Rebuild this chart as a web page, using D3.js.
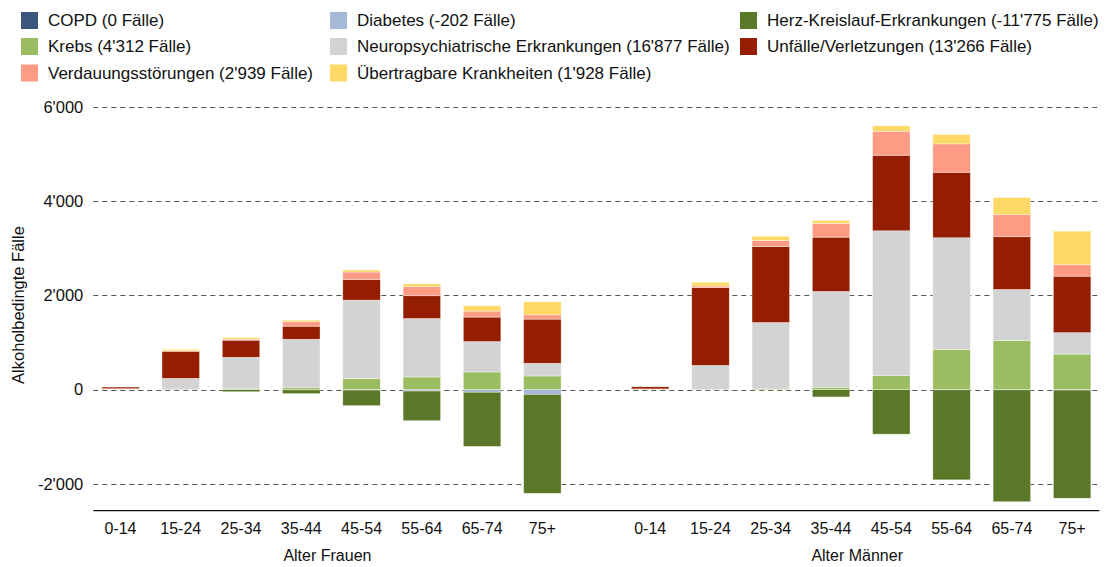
<!DOCTYPE html>
<html lang="de">
<head>
<meta charset="UTF-8">
<title>Alkoholbedingte Fälle</title>
<script src="https://cdnjs.cloudflare.com/ajax/libs/d3/7.8.5/d3.min.js"></script>
<style>
    body { margin: 0; background: #fff; font-family: "Liberation Sans", Arial, sans-serif; }
    svg text { fill: #111; }
    .grid line { stroke: #555; stroke-dasharray: 5,4; }
    .bar rect { stroke: #fff; stroke-width: 0.6; stroke-opacity: 0.6; }
</style>
</head>
<body>
<div id="chart"></div>
<script>
// categories
const ages = ["0-14", "15-24", "25-34", "35-44", "45-54", "55-64", "65-74", "75+"];
const groups = ["Alter Frauen", "Alter Männer"];
const yTicks = [-2000, 0, 2000, 4000, 6000];

// series values, women (F) and men (M), per age class
const copdF = [0, 0, 0, 0, 0, 0, 0, 0];
const copdM = [0, 0, 0, 0, 0, 0, 0, 0];
const diabetesF = [0, 0, 0, -5, -10, -30, -55, -100];
const diabetesM = [0, 0, 0, 0, 0, -5, -5, -10];
const herzF = [0, -5, -45, -80, -330, -630, -1150, -2100];
const herzM = [0, -5, -5, -155, -945, -1910, -2375, -2295];
const krebsF = [0, 10, 20, 50, 234, 270, 375, 290];
const krebsM = [0, 10, 15, 50, 303, 855, 1046, 755];
const neuroF = [20, 230, 667, 1020, 1666, 1240, 646, 270];
const neuroM = [15, 505, 1410, 2035, 3069, 2369, 1081, 454];
const unfaelleF = [35, 575, 363, 277, 440, 483, 519, 937];
const unfaelleM = [45, 1650, 1613, 1152, 1604, 1391, 1118, 1200];
const verdauungF = [0, 10, 20, 93, 157, 192, 127, 91];
const verdauungM = [0, 35, 127, 290, 509, 602, 473, 242];
const uebertragF = [0, 32, 36, 35, 43, 62, 113, 277];
const uebertragM = [0, 79, 91, 64, 115, 198, 360, 713];

const keys = ["copd", "diabetes", "herz", "krebs", "neuro", "unfaelle", "verdauung", "uebertrag"];
const labels = [
    "COPD (0 Fälle)",
    "Diabetes (-202 Fälle)",
    "Herz-Kreislauf-Erkrankungen (-11'775 Fälle)",
    "Krebs (4'312 Fälle)",
    "Neuropsychiatrische Erkrankungen (16'877 Fälle)",
    "Unfälle/Verletzungen (13'266 Fälle)",
    "Verdauungsstörungen (2'939 Fälle)",
    "Übertragbare Krankheiten (1'928 Fälle)"
];
const colors = ["#3b557c", "#a6b8d7", "#5b7829", "#9bbd62", "#d3d3d3", "#961e00", "#fe9b84", "#fed966"];

const seriesF = { copd: copdF, diabetes: diabetesF, herz: herzF, krebs: krebsF, neuro: neuroF, unfaelle: unfaelleF, verdauung: verdauungF, uebertrag: uebertragF };
const seriesM = { copd: copdM, diabetes: diabetesM, herz: herzM, krebs: krebsM, neuro: neuroM, unfaelle: unfaelleM, verdauung: verdauungM, uebertrag: uebertragM };

// one row per group/age for d3.stack
const rows = [];
groups.forEach((g, gi) => {
    const src = gi === 0 ? seriesF : seriesM;
    ages.forEach((a, i) => {
        const r = { group: g, age: a };
        keys.forEach(k => r[k] = src[k][i]);
        rows.push(r);
    });
});

const width = 1113, height = 567;
const plotLeft = 93.3, plotRight = 1099.3;
const axisY = 510.7;

const svg = d3.select("#chart").append("svg")
    .attr("width", width)
    .attr("height", height)
    .style("font-family", "'Liberation Sans', Arial, sans-serif");

const x0 = d3.scaleBand()
    .domain(groups)
    .range([plotLeft, plotRight])
    .paddingInner(0.101)
    .paddingOuter(0);

const x1 = d3.scaleBand()
    .domain(ages)
    .range([0, x0.bandwidth()])
    .paddingInner(0.378)
    .paddingOuter(0.14);

const y = d3.scaleLinear()
    .domain([-2570, 6000])
    .range([axisY, 107]);

const color = d3.scaleOrdinal().domain(keys).range(colors);

const loc = d3.formatLocale({ decimal: ".", thousands: "'", grouping: [3], currency: ["", ""], minus: "-" });
const fmt = loc.format(",d");

// grid lines
svg.append("g")
    .attr("class", "grid")
    .selectAll("line")
    .data(yTicks)
    .join("line")
    .attr("x1", plotLeft)
    .attr("x2", plotRight)
    .attr("y1", d => Math.round(y(d)) + 0.5)
    .attr("y2", d => Math.round(y(d)) + 0.5);

// y axis labels
const yAxis = svg.append("g")
    .attr("transform", `translate(${plotLeft - 10},0)`)
    .call(d3.axisLeft(y).tickValues(yTicks).tickFormat(fmt).tickSize(0).tickPadding(0));
yAxis.select(".domain").remove();
yAxis.selectAll("text").attr("font-size", 16.5).attr("fill", "#111").attr("font-family", "'Liberation Sans', Arial, sans-serif");

svg.append("text")
    .attr("transform", "translate(20,305) rotate(-90)")
    .attr("text-anchor", "middle")
    .attr("dominant-baseline", "middle")
    .attr("font-size", 16.5)
    .text("Alkoholbedingte Fälle");

// stacked bars
const stack = d3.stack().keys(keys).offset(d3.stackOffsetDiverging);
const layers = stack(rows);

svg.append("g")
    .selectAll("g")
    .data(layers)
    .join("g")
    .attr("class", "bar")
    .attr("fill", d => color(d.key))
    .selectAll("rect")
    .data(d => d.filter(p => p[1] !== p[0]))
    .join("rect")
    .attr("x", d => x0(d.data.group) + x1(d.data.age))
    .attr("width", x1.bandwidth())
    .attr("y", d => y(Math.max(d[0], d[1])))
    .attr("height", d => Math.abs(y(d[0]) - y(d[1])));

// x axis
svg.append("line")
    .attr("x1", plotLeft)
    .attr("x2", plotRight)
    .attr("y1", axisY)
    .attr("y2", axisY)
    .attr("stroke", "#111")
    .attr("stroke-width", 1.3);

groups.forEach(g => {
    const ax = svg.append("g")
        .attr("transform", `translate(${x0(g)},${axisY})`)
        .call(d3.axisBottom(x1).tickSize(0).tickPadding(11.5));
    ax.select(".domain").remove();
    ax.selectAll("text").attr("font-size", 16).attr("fill", "#111").attr("font-family", "'Liberation Sans', Arial, sans-serif");

    svg.append("text")
        .attr("x", x0(g) + x0.bandwidth() / 2 - 4)
        .attr("y", 561)
        .attr("text-anchor", "middle")
        .attr("font-size", 16)
        .text(g);
});

// legend, 3 columns row by row
const legendCols = [21, 330, 740];
const legendRows = [20.5, 46.5, 73];
const legend = svg.append("g")
    .selectAll("g")
    .data(keys)
    .join("g")
    .attr("transform", (d, i) => `translate(${legendCols[i % 3]},${legendRows[Math.floor(i / 3)]})`);

legend.append("rect")
    .attr("x", 0)
    .attr("y", -8.5)
    .attr("width", 17)
    .attr("height", 17)
    .attr("fill", d => color(d));

legend.append("text")
    .attr("x", 27)
    .attr("y", 0)
    .attr("dy", "0.35em")
    .attr("font-size", 17)
    .text((d, i) => labels[i]);
</script>
</body>
</html>
